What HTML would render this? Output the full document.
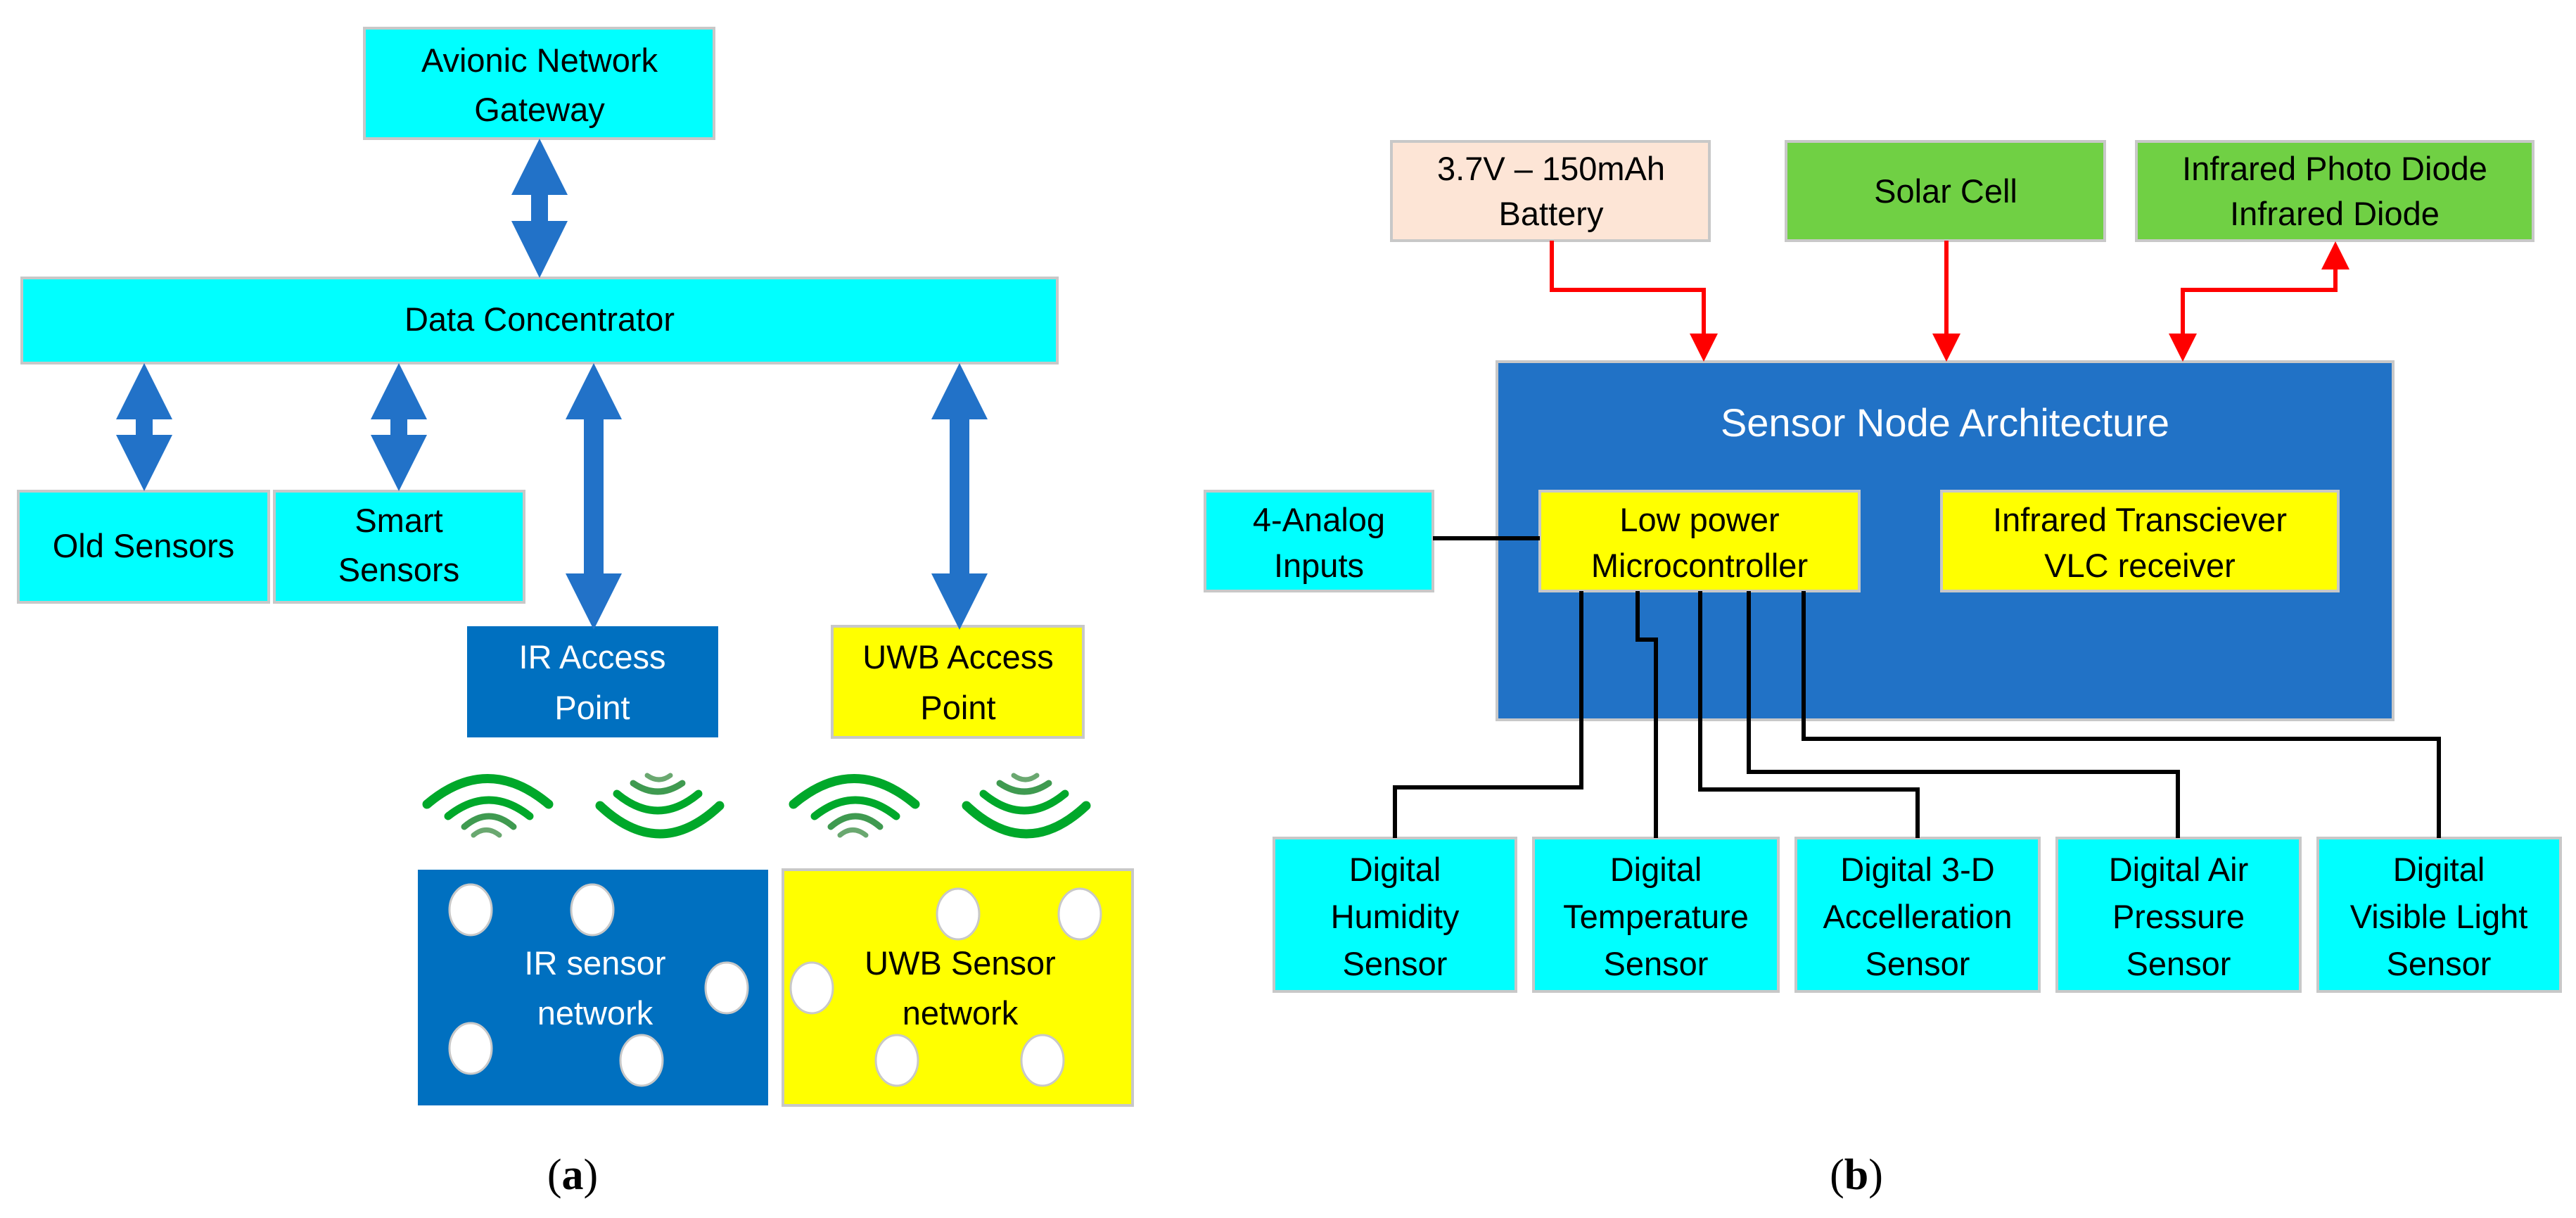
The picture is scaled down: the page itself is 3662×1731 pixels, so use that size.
<!DOCTYPE html>
<html><head><meta charset="utf-8"><style>
html,body{margin:0;padding:0;background:#fff;}
svg{display:block;}
text{font-family:"Liberation Sans Narrow","Liberation Sans",sans-serif;font-size:47px;text-anchor:middle;}
</style></head><body>
<svg width="3662" height="1731" viewBox="0 0 3662 1731" xmlns="http://www.w3.org/2000/svg">
<g stroke="#c8c8c8" stroke-width="4">
<rect x="518" y="40" width="497" height="157" fill="#00ffff"/>
<rect x="31" y="395" width="1472" height="121" fill="#00ffff"/>
<rect x="26" y="698" width="356" height="158" fill="#00ffff"/>
<rect x="390" y="698" width="355" height="158" fill="#00ffff"/>
<rect x="1183" y="890" width="357" height="158" fill="#ffff00"/>
<rect x="1113" y="1236" width="497" height="335" fill="#ffff00"/>
</g>
<rect x="664" y="890" width="357" height="158" fill="#0070c0"/>
<rect x="594" y="1236" width="498" height="335" fill="#0070c0"/>
<g fill="#2272c8">
<polygon points="767,197 807,277 779,277 779,314 807,314 767,395 727,314 755,314 755,277 727,277"/>
<polygon points="205,516 245,596 217,596 217,618 245,618 205,698 165,618 193,618 193,596 165,596"/>
<polygon points="567,516 607,596 579,596 579,618 607,618 567,698 527,618 555,618 555,596 527,596"/>
<polygon points="844,516 884,596 858,596 858,815 884,815 844,895 804,815 830,815 830,596 804,596"/>
<polygon points="1364,516 1404,596 1378,596 1378,815 1404,815 1364,895 1324,815 1350,815 1350,596 1324,596"/>
</g>
<text x="767" y="102">Avionic Network</text>
<text x="767" y="172">Gateway</text>
<text x="767" y="470">Data Concentrator</text>
<text x="204" y="792">Old Sensors</text>
<text x="567" y="756">Smart</text>
<text x="567" y="826">Sensors</text>
<text x="842" y="950" fill="#fff">IR Access</text>
<text x="842" y="1022" fill="#fff">Point</text>
<text x="1362" y="950">UWB Access</text>
<text x="1362" y="1022">Point</text>
<g fill="none" stroke="#00a82a" stroke-linecap="round">
<g id="w">
<path d="M607,1143 Q693,1070 780,1143" stroke-width="13"/>
<path d="M637,1160 Q695,1114 753,1160" stroke-width="11"/>
<path d="M660,1175 Q695,1145 730,1175" stroke-width="9" stroke="#3f9a50"/>
<path d="M673,1187 Q691,1172 710,1187" stroke-width="7" stroke="#6aa870"/>
<path d="M853,1145 Q938,1225 1023,1145" stroke-width="13"/>
<path d="M877,1128 Q935,1176 993,1128" stroke-width="11"/>
<path d="M900,1113 Q935,1137 970,1113" stroke-width="9" stroke="#3f9a50"/>
<path d="M920,1102 Q937,1114 953,1102" stroke-width="7" stroke="#6aa870"/>
</g>
<use href="#w" transform="translate(521,0)"/>
</g>
<g fill="#fff" stroke="#c8c8c8" stroke-width="3">
<ellipse cx="669" cy="1293" rx="30" ry="36"/>
<ellipse cx="842" cy="1293" rx="30" ry="36"/>
<ellipse cx="1033" cy="1404" rx="30" ry="36"/>
<ellipse cx="669" cy="1490" rx="30" ry="36"/>
<ellipse cx="912" cy="1507" rx="30" ry="36"/>
<ellipse cx="1362" cy="1299" rx="30" ry="36"/>
<ellipse cx="1535" cy="1299" rx="30" ry="36"/>
<ellipse cx="1154" cy="1404" rx="30" ry="36"/>
<ellipse cx="1275" cy="1507" rx="30" ry="36"/>
<ellipse cx="1482" cy="1507" rx="30" ry="36"/>
</g>
<text x="846" y="1385" fill="#fff">IR sensor</text>
<text x="846" y="1456" fill="#fff">network</text>
<text x="1365" y="1385">UWB Sensor</text>
<text x="1365" y="1456">network</text>
<text x="814" y="1690" style="font-family:'Liberation Serif',serif;font-size:62px">(<tspan font-weight="bold">a</tspan>)</text>

<g stroke="#c8c8c8" stroke-width="4">
<rect x="1978" y="201" width="452" height="141" fill="#fde5d6"/>
<rect x="2539" y="201" width="453" height="141" fill="#70d044"/>
<rect x="3037" y="201" width="564" height="141" fill="#70d044"/>
<rect x="2128" y="514" width="1274" height="509" fill="#2172c6"/>
<rect x="1713" y="698" width="324" height="142" fill="#00ffff"/>
<rect x="2189" y="698" width="454" height="142" fill="#ffff00"/>
<rect x="2760" y="698" width="564" height="142" fill="#ffff00"/>
<rect x="1811" y="1191" width="344" height="218" fill="#00ffff"/>
<rect x="2180" y="1191" width="348" height="218" fill="#00ffff"/>
<rect x="2553" y="1191" width="346" height="218" fill="#00ffff"/>
<rect x="2924" y="1191" width="346" height="218" fill="#00ffff"/>
<rect x="3295" y="1191" width="345" height="218" fill="#00ffff"/>
</g>
<g fill="none" stroke="#ff0000" stroke-width="6">
<polyline points="2206,342 2206,412 2422,412 2422,478"/>
<line x1="2767" y1="342" x2="2767" y2="478"/>
<polyline points="3320,380 3320,412 3103,412 3103,478"/>
</g>
<g fill="#ff0000">
<polygon points="2402,474 2442,474 2422,514"/>
<polygon points="2747,474 2787,474 2767,514"/>
<polygon points="3083,474 3123,474 3103,514"/>
<polygon points="3300,383 3340,383 3320,343"/>
</g>
<g fill="none" stroke="#000" stroke-width="6">
<line x1="2037" y1="765" x2="2189" y2="765"/>
<polyline points="2248,840 2248,1119 1983,1119 1983,1191"/>
<polyline points="2328,840 2328,909 2354,909 2354,1191"/>
<polyline points="2417,840 2417,1122 2726,1122 2726,1191"/>
<polyline points="2486,840 2486,1097 3096,1097 3096,1191"/>
<polyline points="2564,840 2564,1050 3467,1050 3467,1191"/>
</g>
<text x="2205" y="256">3.7V – 150mAh</text>
<text x="2205" y="320">Battery</text>
<text x="2766" y="288">Solar Cell</text>
<text x="3319" y="256">Infrared Photo Diode</text>
<text x="3319" y="320">Infrared Diode</text>
<text x="2765" y="620" fill="#fff" style="font-size:56px">Sensor Node Architecture</text>
<text x="1875" y="755">4-Analog</text>
<text x="1875" y="820">Inputs</text>
<text x="2416" y="755">Low power</text>
<text x="2416" y="820">Microcontroller</text>
<text x="3042" y="755">Infrared Transciever</text>
<text x="3042" y="820">VLC receiver</text>
<g>
<text x="1983" y="1252">Digital</text><text x="1983" y="1319">Humidity</text><text x="1983" y="1386">Sensor</text>
<text x="2354" y="1252">Digital</text><text x="2354" y="1319">Temperature</text><text x="2354" y="1386">Sensor</text>
<text x="2726" y="1252">Digital 3-D</text><text x="2726" y="1319">Accelleration</text><text x="2726" y="1386">Sensor</text>
<text x="3097" y="1252">Digital Air</text><text x="3097" y="1319">Pressure</text><text x="3097" y="1386">Sensor</text>
<text x="3467" y="1252">Digital</text><text x="3467" y="1319">Visible Light</text><text x="3467" y="1386">Sensor</text>
</g>
<text x="2639" y="1690" style="font-family:'Liberation Serif',serif;font-size:62px">(<tspan font-weight="bold">b</tspan>)</text>
</svg>
</body></html>
